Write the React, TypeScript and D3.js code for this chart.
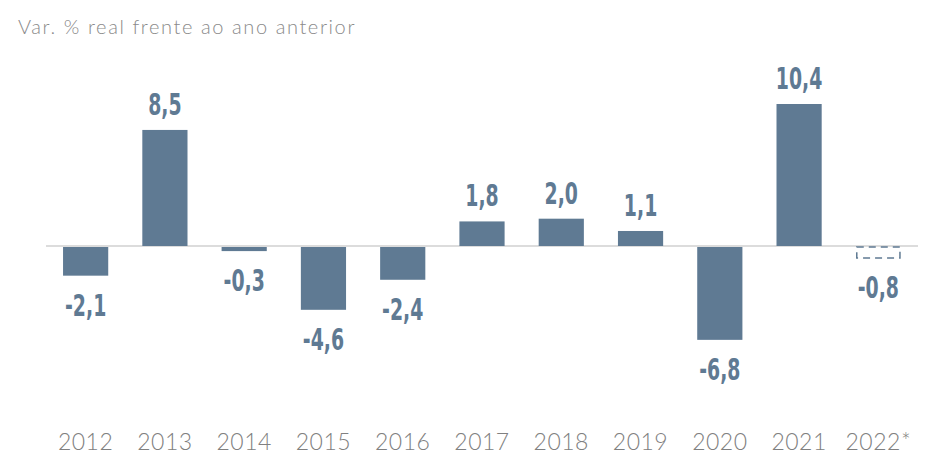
import React from "react";
import * as d3 from "d3";

const years = ["2012", "2013", "2014", "2015", "2016", "2017", "2018", "2019", "2020", "2021", "2022*"];
const values = [-2.1, 8.5, -0.3, -4.6, -2.4, 1.8, 2.0, 1.1, -6.8, 10.4, -0.8];
const projected = [false, false, false, false, false, false, false, false, false, false, true];
const title = "Var. % real frente ao ano anterior";

const W = 936, H = 462;
const BAR = "#5f7a93";

export default function App() {
  const x = d3.scaleBand<string>().domain(years).range([46, 918]).paddingInner(0.43).paddingOuter(0.215);
  const y = d3.scaleLinear().domain([0, 10.4]).range([246, 104]);
  const fmt = (v: number) => d3.format(".1f")(v).replace(".", ",").replace("−", "-");
  const valueFont = "'DejaVu Sans Condensed', 'DejaVu Sans', sans-serif";
  const lightFont = "'Lato', 'Open Sans', sans-serif";
  return (
    <svg width={W} height={H} style={{ position: "absolute", left: 0, top: 0, background: "#fff" }}>
      <text x={18} y={34} fontFamily={lightFont} fontWeight={300} fontSize={20} letterSpacing={1.6} fill="#8a8a8a">{title}</text>
      <line x1={46} x2={918} y1={y(0)} y2={y(0)} stroke="#dcdcdc" strokeWidth={2} />
      {years.map((yr, i) => {
        const v = values[i];
        const bx = x(yr)!;
        const bw = x.bandwidth();
        const top = v >= 0 ? y(v) : y(0) + 1;
        const h = Math.abs(y(v) - y(0));
        const cx = bx + bw / 2;
        const ly = v >= 0 ? y(v) - 15 : y(v) + 41;
        return (
          <g key={yr}>
            {projected[i] ? (
              <rect x={bx + 1} y={top} width={bw - 2} height={h} fill="none" stroke={BAR} strokeWidth={1.5} strokeDasharray="7,5" />
            ) : (
              <rect x={bx} y={top} width={bw} height={h} fill={BAR} />
            )}
            <g transform={`translate(${cx},${ly}) scale(0.7,1)`}>
              <text x={0} y={0} textAnchor="middle" fontFamily={valueFont} fontWeight={700} fontSize={30} fill={BAR}>{fmt(v)}</text>
            </g>
            <text x={cx} y={450} textAnchor="middle" fontFamily={lightFont} fontWeight={300} fontSize={23} letterSpacing={0.5} fill="#808080">{yr}</text>
          </g>
        );
      })}
    </svg>
  );
}
